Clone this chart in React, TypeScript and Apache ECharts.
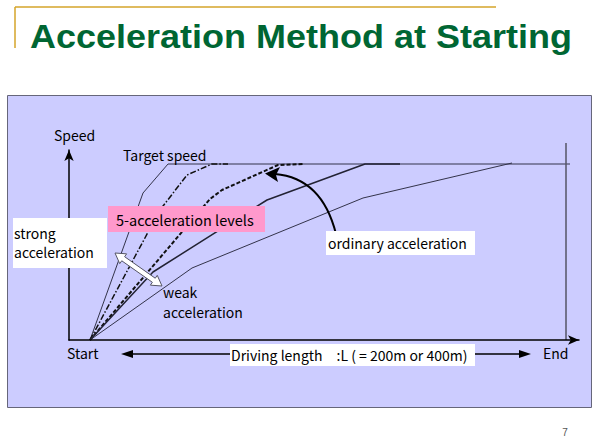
import React, { useEffect, useRef } from "react";
import * as echarts from "echarts";

// Speed profiles (x: distance units, y: speed units)
const strongLine: [number, number][] = [[4.2, 0], [14.8, 73.5], [19.8, 88], [100.2, 88]];
const level2Line: [number, number][] = [[4.2, 0], [18.2, 65], [23.6, 82.5], [28.6, 88], [31.8, 88]];
const level3Line: [number, number][] = [[4.2, 0], [28.2, 70.5], [30.6, 75], [41.8, 87.5], [46.8, 88]];
const ordinaryLine: [number, number][] = [[4.2, 0], [16.8, 34], [39.6, 70], [59.2, 88], [66.2, 88]];
const weakLine: [number, number][] = [[4.2, 0], [24.6, 36], [58.8, 71], [88.6, 88.5]];
const endLine: [number, number][] = [[99.4, 0], [99.4, 98.5]];

const TITLE = "Acceleration Method at Starting";
const FONT = "'Noto Sans CJK JP', 'Noto Sans', sans-serif";

function doubleArrow(ax: number, ay: number, bx: number, by: number, hw: number, sw: number, hl: number) {
  const dx = bx - ax, dy = by - ay;
  const len = Math.sqrt(dx * dx + dy * dy);
  const ux = dx / len, uy = dy / len;
  const nx = -uy, ny = ux;
  const p = (bx0: number, by0: number, s: number, w: number): number[] => [bx0 + ux * s + nx * w, by0 + uy * s + ny * w];
  return [
    [ax, ay],
    p(ax, ay, hl, hw),
    p(ax, ay, hl, sw),
    p(bx, by, -hl, sw),
    p(bx, by, -hl, hw),
    [bx, by],
    p(bx, by, -hl, -hw),
    p(bx, by, -hl, -sw),
    p(ax, ay, hl, -sw),
    p(ax, ay, hl, -hw),
  ];
}

export default function App() {
  const ref = useRef<HTMLDivElement>(null);
  useEffect(() => {
    if (!ref.current) return;
    const chart = echarts.init(ref.current, null, { renderer: "svg" });
    const txt = (text: string, x: number, y: number, size = 14, extra: any = {}) => ({
      type: "text",
      x,
      y,
      z: 20,
      style: {
        text,
        fill: "#000",
        fontSize: size,
        fontFamily: FONT,
        textVerticalAlign: "middle",
        ...extra,
      },
    });
    const lineStyleBase = { color: "#33334a", width: 1 };
    const mk = (name: string, data: [number, number][], ls: any) => ({
      name,
      type: "line",
      data,
      symbol: "none",
      showSymbol: false,
      clip: false,
      z: 5,
      lineStyle: { ...lineStyleBase, ...ls },
    });
    chart.setOption({
      animation: false,
      backgroundColor: "#ffffff",
      grid: { left: 69, right: 21, top: 150, bottom: 105 },
      xAxis: {
        type: "value",
        min: 0,
        max: 102,
        z: 6,
        axisLine: { show: true, onZero: false, symbol: ["none", "arrow"], symbolSize: [7, 11], lineStyle: { color: "#000", width: 1.5 } },
        axisTick: { show: false },
        axisLabel: { show: false },
        splitLine: { show: false },
      },
      yAxis: {
        type: "value",
        min: 0,
        max: 95,
        z: 6,
        axisLine: { show: true, onZero: false, symbol: ["none", "arrow"], symbolSize: [7, 11], lineStyle: { color: "#000", width: 1.5 } },
        axisTick: { show: false },
        axisLabel: { show: false },
        splitLine: { show: false },
      },
      series: [
        mk("strong", strongLine, { width: 1 }),
        mk("level2", level2Line, { width: 1.5, color: "#111", type: [6, 2, 1.5, 2] }),
        mk("level3", level3Line, { width: 2, color: "#111", type: [4, 2] }),
        mk("ordinary", ordinaryLine, { width: 1.5, color: "#222233" }),
        mk("weak", weakLine, { width: 1 }),
        mk("end", endLine, { width: 1.5, color: "#555566" }),
      ],
      graphic: [
        // slide decorations
        { type: "line", z: 1, shape: { x1: 15, y1: 7, x2: 496, y2: 7 }, style: { stroke: "#d4a52a", lineWidth: 1.5 } },
        { type: "line", z: 1, shape: { x1: 15, y1: 7, x2: 15, y2: 48 }, style: { stroke: "#d4a52a", lineWidth: 1.5 } },
        {
          type: "text",
          x: 30,
          y: 37,
          z: 1,
          scaleY: 0.9,
          style: {
            text: TITLE,
            fill: "#006633",
            fontSize: 36,
            fontWeight: "bold",
            fontFamily: "'Liberation Sans', Arial, sans-serif",
            textVerticalAlign: "middle",
          },
        },
        { type: "rect", z: -10, shape: { x: 7.5, y: 95.5, width: 584, height: 312 }, style: { fill: "#ccccff", stroke: "#66667a", lineWidth: 1 } },
        txt("7", 565, 432, 10, { fill: "#555", textAlign: "center", fontFamily: "'Liberation Sans', Arial, sans-serif" }),
        // axis labels
        txt("Speed", 54, 135),
        txt("Start", 67, 353),
        txt("End", 543, 353),
        txt("Target speed", 123, 155),
        // pink box
        { type: "rect", z: 15, shape: { x: 108, y: 206, width: 157, height: 26 }, style: { fill: "#ff99cc" } },
        txt("5-acceleration levels", 116, 219, 14.5),
        // strong acceleration
        { type: "rect", z: 15, shape: { x: 13, y: 218, width: 94, height: 50 }, style: { fill: "#ffffff" } },
        txt("strong\nacceleration", 14, 242, 14, { lineHeight: 19 }),
        // ordinary acceleration
        { type: "rect", z: 15, shape: { x: 326, y: 231, width: 149, height: 24 }, style: { fill: "#ffffff" } },
        txt("ordinary acceleration", 328, 243),
        // weak
        txt("weak\nacceleration", 163, 302, 14, { lineHeight: 20 }),
        // curved arrow
        { type: "bezierCurve", z: 12, shape: { x1: 336, y1: 234, x2: 275, y2: 174, cpx1: 322, cpy1: 178 }, style: { stroke: "#000", lineWidth: 2, fill: null } },
        { type: "polygon", z: 12, shape: { points: [[265, 173.5], [280, 167], [276, 175], [278, 182]] }, style: { fill: "#000" } },
        // white double arrow
        { type: "polygon", z: 16, shape: { points: doubleArrow(115, 253, 162, 286, 6, 2.5, 10) }, style: { fill: "#ffffff", stroke: "#555566", lineWidth: 1 } },
        // driving length arrow
        { type: "line", z: 12, shape: { x1: 130, y1: 354, x2: 522, y2: 354 }, style: { stroke: "#000", lineWidth: 1.5 } },
        { type: "polygon", z: 12, shape: { points: [[121, 354], [133, 350], [133, 358]] }, style: { fill: "#000" } },
        { type: "polygon", z: 12, shape: { points: [[531, 354], [519, 350], [519, 358]] }, style: { fill: "#000" } },
        { type: "rect", z: 15, shape: { x: 230, y: 344, width: 245, height: 22 }, style: { fill: "#ffffff" } },
        txt("Driving length\u3000:L ( = 200m or 400m)", 231, 355),
      ],
    });
    return () => chart.dispose();
  }, []);
  return <div ref={ref} style={{ width: 600, height: 445, position: "absolute", left: 0, top: 0 }} />;
}
